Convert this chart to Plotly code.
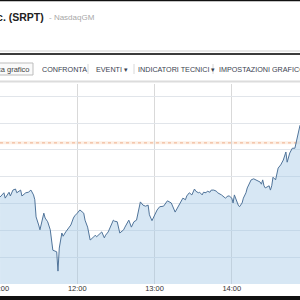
import plotly.graph_objects as go

DAY = "2013-07-22"
times = ["11:00","11:03","11:04","11:07","11:08","11:10","11:12","11:13","11:16","11:17",
         "11:20","11:22","11:24","11:26","11:27","11:28","11:30","11:31","11:34","11:35",
         "11:37","11:39","11:41","11:44","11:45","11:46","11:48","11:49","11:51","11:53",
         "11:55","11:57","11:58","12:00","12:02","12:05","12:06","12:08","12:10","12:12",
         "12:14","12:15","12:17","12:19","12:21","12:22","12:24","12:26","12:28","12:29",
         "12:31","12:33","12:36","12:37","12:40","12:42","12:44","12:46","12:49","12:51",
         "12:53","12:55","12:56","12:58","13:00","13:02","13:04","13:07","13:10","13:12",
         "13:13","13:16","13:17","13:20","13:22","13:24","13:25","13:27","13:29","13:31",
         "13:32","13:34","13:35","13:37","13:38","13:40","13:41","13:43","13:44","13:46",
         "13:48","13:49","13:51","13:52","13:54","13:55","13:57","13:58","14:00","14:01",
         "14:02","14:04","14:05","14:06","14:08","14:09","14:11","14:12","14:15","14:17",
         "14:19","14:22","14:23","14:24","14:25","14:26","14:29","14:30","14:31","14:32",
         "14:34","14:36","14:38","14:39","14:40","14:42","14:43","14:45","14:46","14:47",
         "14:49","14:50","14:52","14:53"]
prices = [31.12,31.20,31.10,31.21,31.14,31.25,31.27,31.20,31.25,31.14,
          31.20,31.21,31.25,31.16,31.07,30.75,30.60,30.51,30.82,30.73,
          30.66,30.51,30.13,30.10,29.74,30.17,30.45,30.39,30.47,30.54,
          30.60,30.73,30.77,30.82,30.88,30.82,30.69,30.56,30.32,30.36,
          30.41,30.38,30.43,30.47,30.36,30.41,30.47,30.58,30.69,30.67,
          30.66,30.45,30.51,30.56,30.69,30.56,30.66,30.69,31.03,30.97,
          30.95,30.97,30.79,30.68,30.79,30.88,30.94,30.95,31.05,31.03,
          31.01,30.84,30.88,31.01,31.10,31.07,31.14,31.20,31.16,31.27,
          31.23,31.20,31.21,31.16,31.21,31.20,31.23,31.21,31.25,31.25,
          31.23,31.20,31.18,31.16,31.12,31.10,31.14,31.14,31.10,31.01,
          31.16,31.01,30.97,30.94,31.01,31.10,31.20,31.29,31.44,31.46,
          31.44,31.40,31.36,31.44,31.33,31.29,31.33,31.25,31.33,31.49,
          31.44,31.66,31.72,31.77,31.81,31.96,31.77,31.94,32.00,32.03,
          32.03,32.15,32.37,32.46]
ref_price = 32.13
tick_times = ["11:00", "12:00", "13:00", "14:00"]
tick_text = ["11:00", "12:00", "13:00", "14:00"]
toolbar_items = ["CONFRONTA", "EVENTI \u25be", "INDICATORI TECNICI \u25be", "IMPOSTAZIONI GRAFICO"]
title_main = "Sarepta Therapeutics Inc. (SRPT)"
title_exch = "- NasdaqGM"
button_text = "Modifica grafico"

W, H = 300, 300
TOP, BOT = 84, 284  # plot area in px


def px(x):
    return x / W


def py(y):
    return (BOT - y) / (BOT - TOP)


xs = [f"{DAY} {t}" for t in times]
fig = go.Figure()
fig.add_trace(go.Scatter(
    x=xs, y=prices, mode="lines",
    line=dict(color="#50749a", width=1),
    fill="tozeroy", fillcolor="rgba(160,198,228,0.42)",
    hoverinfo="skip", showlegend=False,
))

shapes = []
shapes.append(dict(type="rect", xref="paper", yref="paper", x0=px(-5), x1=px(305), y0=py(-5), y1=py(1.2),
                   fillcolor="#111", line_width=0, layer="above"))
shapes.append(dict(type="line", xref="paper", yref="paper", x0=px(-5), x1=px(305), y0=py(51), y1=py(51),
                   line=dict(color="#d0d0d0", width=1)))
shapes.append(dict(type="line", xref="paper", yref="paper", x0=px(-5), x1=px(305), y0=py(54), y1=py(54),
                   line=dict(color="#3c3c3c", width=2)))
shapes.append(dict(type="line", xref="paper", yref="paper", x0=px(-5), x1=px(305), y0=py(81.5), y1=py(81.5),
                   line=dict(color="#dcdcdc", width=2)))
shapes.append(dict(type="rect", xref="paper", yref="paper", x0=px(-5), x1=px(33), y0=py(75), y1=py(63),
                   fillcolor="#fafafa", line=dict(color="#bdbdbd", width=1)))
for sx in [88, 134, 213]:
    shapes.append(dict(type="line", xref="paper", yref="paper", x0=px(sx), x1=px(sx), y0=py(74), y1=py(64),
                       line=dict(color="#d8d8d8", width=1)))
shapes.append(dict(type="line", xref="paper", yref="y", x0=0, x1=1, y0=ref_price, y1=ref_price,
                   line=dict(color="rgba(250,228,210,0.6)", width=3), layer="below"))
shapes.append(dict(type="line", xref="paper", yref="y", x0=0, x1=1, y0=ref_price, y1=ref_price,
                   line=dict(color="rgba(235,160,120,0.8)", width=1, dash="dot"), layer="below"))
shapes.append(dict(type="rect", xref="paper", yref="paper", x0=px(-5), x1=px(305), y0=py(305), y1=py(296),
                   fillcolor="#111", line_width=0))

ann = []
ann.append(dict(xref="paper", yref="paper", x=px(46), y=py(17), xanchor="right", yanchor="middle",
                text=f"<b>{title_main}</b>", showarrow=False,
                font=dict(family="Liberation Sans, Arial", size=10.5, color="#222")))
ann.append(dict(xref="paper", yref="paper", x=px(47), y=py(17), xanchor="left", yanchor="middle",
                text=title_exch, showarrow=False,
                font=dict(family="Liberation Sans, Arial", size=8, color="#a8a8a8")))
ann.append(dict(xref="paper", yref="paper", x=px(32), y=py(69), xanchor="right", yanchor="middle",
                text=button_text, showarrow=False,
                font=dict(family="Liberation Sans, Arial", size=7.5, color="#444")))
for label, lx in zip(toolbar_items, [40, 94, 136, 217]):
    ann.append(dict(xref="paper", yref="paper", x=px(lx), y=py(69), xanchor="left", yanchor="middle",
                    text=label, showarrow=False,
                    font=dict(family="Liberation Sans, Arial", size=7.2, color="#3a4250")))

fig.update_layout(
    width=W, height=H,
    margin=dict(l=0, r=0, t=TOP, b=H - BOT, pad=0, autoexpand=False),
    paper_bgcolor="white", plot_bgcolor="white",
    shapes=shapes, annotations=ann,
    xaxis=dict(
        type="date", automargin=False,
        range=[f"{DAY} 10:59:58", f"{DAY} 14:52:58"],
        tickvals=[f"{DAY} {t}" for t in tick_times], ticktext=tick_text,
        showgrid=True, gridcolor="#d9d9d9", gridwidth=1,
        zeroline=False, showline=False, ticks="",
        ticklabeloverflow="allow", ticklabelstandoff=-2,
        tickfont=dict(family="Liberation Sans, Arial", size=7.5, color="#333"),
        fixedrange=True,
    ),
    yaxis=dict(
        range=[29.5, 33.227], dtick=0.5, tick0=29.5, automargin=False,
        showgrid=True, gridcolor="#e1e5ea", gridwidth=1,
        zeroline=False, showline=False, showticklabels=False, ticks="",
        fixedrange=True,
    ),
)

fig.write_html("out.html")
